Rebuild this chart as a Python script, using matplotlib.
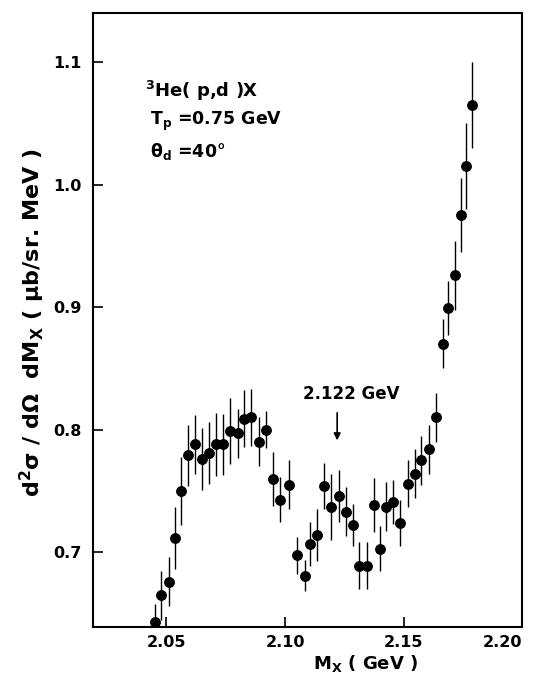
import numpy as np
import matplotlib
matplotlib.use("Agg")
import matplotlib.pyplot as plt

# datos: 3He(p,d)X, Tp = 0.75 GeV, theta_d = 40 deg
mx = [2.045, 2.0475, 2.051, 2.0536, 2.056, 2.059, 2.062, 2.065, 2.068, 2.0707,
      2.0739, 2.0768, 2.080, 2.0825, 2.0857, 2.089, 2.092, 2.095, 2.098, 2.1017,
      2.1051, 2.1085, 2.1104, 2.1135, 2.1166, 2.1193, 2.1228, 2.1256, 2.1288, 2.1313,
      2.1346, 2.1376, 2.1401, 2.1426, 2.1457, 2.1485, 2.1517, 2.155, 2.1575, 2.1607,
      2.1638, 2.1665, 2.1689, 2.1715, 2.1742, 2.1765, 2.179]
sigma = [0.643, 0.665, 0.676, 0.7115, 0.750, 0.779, 0.788, 0.776, 0.781, 0.788,
         0.788, 0.799, 0.797, 0.809, 0.810, 0.790, 0.800, 0.760, 0.743, 0.755,
         0.6975, 0.681, 0.707, 0.714, 0.754, 0.737, 0.746, 0.733, 0.722, 0.689,
         0.689, 0.7385, 0.703, 0.737, 0.741, 0.724, 0.756, 0.764, 0.775, 0.784,
         0.810, 0.870, 0.899, 0.926, 0.975, 1.015, 1.065]
err = [0.015, 0.02, 0.02, 0.025, 0.028, 0.025, 0.024, 0.025, 0.025, 0.026,
       0.025, 0.027, 0.02, 0.023, 0.023, 0.02, 0.015, 0.022, 0.018, 0.02,
       0.015, 0.013, 0.018, 0.021, 0.019, 0.027, 0.021, 0.02, 0.017, 0.019,
       0.019, 0.022, 0.018, 0.02, 0.018, 0.019, 0.019, 0.02, 0.02, 0.02,
       0.02, 0.02, 0.022, 0.028, 0.03, 0.035, 0.035]

xticks = [2.05, 2.10, 2.15, 2.20]
xticklabels = ["2.05", "2.10", "2.15", "2.20"]
yticks = [0.7, 0.8, 0.9, 1.0, 1.1]
yticklabels = ["0.7", "0.8", "0.9", "1.0", "1.1"]

pico_mx = 2.122

plt.rcParams["font.family"] = ["DejaVu Sans"]
plt.rcParams["font.weight"] = "bold"
plt.rcParams["axes.labelweight"] = "bold"
plt.rcParams["mathtext.default"] = "bf"

fig = plt.figure(figsize=(5.36, 6.81), dpi=100)
ax = fig.add_axes([0.1735, 0.0793, 0.8005, 0.9017])

ax.errorbar(mx, sigma, yerr=err, fmt="o", color="black", ms=6.8,
            elinewidth=1.0, capsize=0, clip_on=True)

ax.set_xlim(2.019, 2.2)
ax.set_ylim(0.639, 1.14)

ax.set_xticks(xticks)
ax.set_xticklabels(xticklabels)
ax.set_yticks(yticks)
ax.set_yticklabels(yticklabels)
ax.tick_params(direction="in", length=7, width=1.2, labelsize=11.5, pad=6)
ax.tick_params(axis="y", pad=8)
ax.get_xticklabels()[-1].set_ha("right")
for s in ax.spines.values():
    s.set_linewidth(1.5)

ax.set_xlabel(r"M$_X$ ( GeV )", fontsize=13)
ax.xaxis.set_label_coords(0.634, -0.043, transform=ax.transAxes)
ax.xaxis.label.set_va("top")
fig.text(32 / 536, 1 - 323 / 681, r"d$^2$σ / dΩ  dM$_X$ ( μb/sr. MeV )",
         rotation=90, ha="center", va="center", fontsize=16)

# texto de condiciones
ax.text(0.121, 0.863, r"$^3$He( p,d )X", transform=ax.transAxes, fontsize=13,
        va="baseline")
ax.text(0.133, 0.818, r"T$_p$ =0.75 GeV", transform=ax.transAxes, fontsize=12.5,
        va="baseline")
ax.text(0.133, 0.766, r"θ$_d$ =40°", transform=ax.transAxes, fontsize=12.5,
        va="baseline")

# flecha en 2.122 GeV
ax.annotate("", xy=(pico_mx, 0.789), xytext=(pico_mx, 0.816),
            arrowprops=dict(arrowstyle="-|>", color="black", lw=1.2,
                            mutation_scale=10))
ax.text(2.128, 0.825, "2.122 GeV", ha="center", va="baseline", fontsize=12)

fig.savefig("out.png", dpi=100)
